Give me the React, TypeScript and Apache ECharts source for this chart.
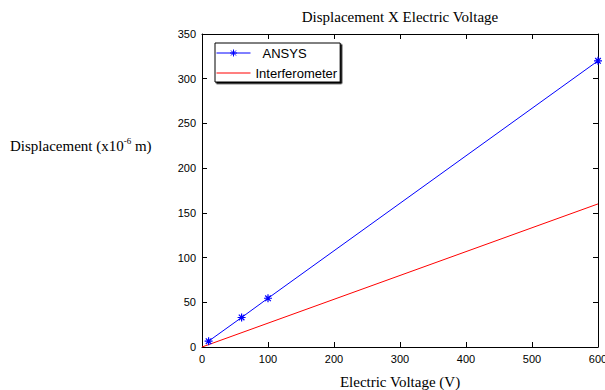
import React, { useEffect, useRef } from "react";
import * as echarts from "echarts";

const ansysX = [10, 60, 100, 600];
const ansysY = [6.5, 33, 54.5, 320];
const interfX = [0, 600];
const interfY = [0, 160];
const xTicks = { min: 0, max: 600, interval: 100 };
const yTicks = { min: 0, max: 350, interval: 50 };

const star = "path://M0,-5L0,5M-5,0L5,0M-3.5,-3.5L3.5,3.5M-3.5,3.5L3.5,-3.5";
const ansysLegendIcon = "path://M0,4.5L34,4.5M17,1L17,8M13.5,4.5L20.5,4.5M14.5,2L19.5,7M14.5,7L19.5,2";
const interfLegendIcon = "path://M0,0L40,0L40,1L0,1Z";

export default function App() {
  const ref = useRef<HTMLDivElement>(null);
  useEffect(() => {
    const chart = echarts.init(ref.current!, null, { renderer: "svg" });
    const sans = "Liberation Sans";
    const serif = "Liberation Serif";
    const axisCommon = {
      axisLine: { show: true, onZero: false, lineStyle: { color: "#000", width: 1 } },
      axisTick: { show: true, inside: true, length: 5, lineStyle: { color: "#000" } },
      splitLine: { show: false },
    };
    chart.setOption({
      animation: false,
      title: {
        text: "Displacement X Electric Voltage",
        left: 395,
        top: 4,
        textAlign: "center",
        textStyle: { fontFamily: serif, fontSize: 15, fontWeight: "normal", color: "#000" },
      },
      grid: { left: 202, right: 7, top: 34, bottom: 43, containLabel: false, outerBoundsMode: "none" },
      legend: {
        orient: "vertical",
        left: 215,
        top: 43,
        itemWidth: 34,
        itemHeight: 9,
        itemGap: 6,
        padding: [3, 3, 2, 1],
        backgroundColor: "#fff",
        borderColor: "#000",
        borderWidth: 1,
        borderRadius: 0,
        shadowColor: "#000",
        shadowOffsetX: 1.5,
        shadowOffsetY: 1.5,
        shadowBlur: 0,
        formatter: (name: string) => (name === "ANSYS" ? "{p|ANSYS}" : name),
        textStyle: {
          fontFamily: sans,
          fontSize: 13,
          lineHeight: 14,
          color: "#000",
          rich: { p: { fontFamily: sans, fontSize: 13, lineHeight: 14, color: "#000", padding: [0, 0, 0, 7] } },
        },
        data: [
          { name: "ANSYS", icon: ansysLegendIcon, itemStyle: { color: "#0000ff", borderColor: "#0000ff", borderWidth: 1 } },
          { name: "Interferometer", icon: interfLegendIcon, itemStyle: { color: "#ff0000", borderWidth: 0 } },
        ],
      },
      xAxis: [
        {
          type: "value",
          ...xTicks,
          ...axisCommon,
          axisLabel: { fontFamily: sans, fontSize: 11, color: "#000", margin: 6 },
          name: "Electric Voltage (V)",
          nameLocation: "middle",
          nameGap: 27,
          nameTextStyle: { fontFamily: serif, fontSize: 15, color: "#000" },
        },
        {
          type: "value",
          position: "top",
          ...xTicks,
          ...axisCommon,
          axisLabel: { show: false },
        },
      ],
      yAxis: [
        {
          type: "value",
          ...yTicks,
          ...axisCommon,
          axisLabel: { fontFamily: sans, fontSize: 11, color: "#000", margin: 6 },
        },
        {
          type: "value",
          position: "right",
          ...yTicks,
          ...axisCommon,
          axisLabel: { show: false },
        },
      ],
      graphic: [
        {
          type: "text",
          left: 10,
          top: 136,
          style: {
            text: "{a|Displacement (x10}{b|-6}{a| m)}",
            rich: {
              a: { fontFamily: serif, fontSize: 15, color: "#000", lineHeight: 20 },
              b: { fontFamily: serif, fontSize: 9, color: "#000", verticalAlign: "top", lineHeight: 20 },
            },
          },
        },
      ],
      series: [
        {
          name: "ANSYS",
          type: "line",
          data: ansysX.map((x, i) => [x, ansysY[i]]),
          symbol: star,
          symbolSize: 8,
          showSymbol: true,
          lineStyle: { color: "#0000ff", width: 1 },
          itemStyle: { color: "#0000ff", borderColor: "#0000ff", borderWidth: 1.2 },
        },
        {
          name: "Interferometer",
          type: "line",
          data: interfX.map((x, i) => [x, interfY[i]]),
          symbol: "none",
          lineStyle: { color: "#ff0000", width: 1 },
          itemStyle: { color: "#ff0000" },
        },
      ],
    });
    return () => chart.dispose();
  }, []);
  return <div ref={ref} style={{ width: 605, height: 390, position: "absolute", left: 0, top: 0 }} />;
}
